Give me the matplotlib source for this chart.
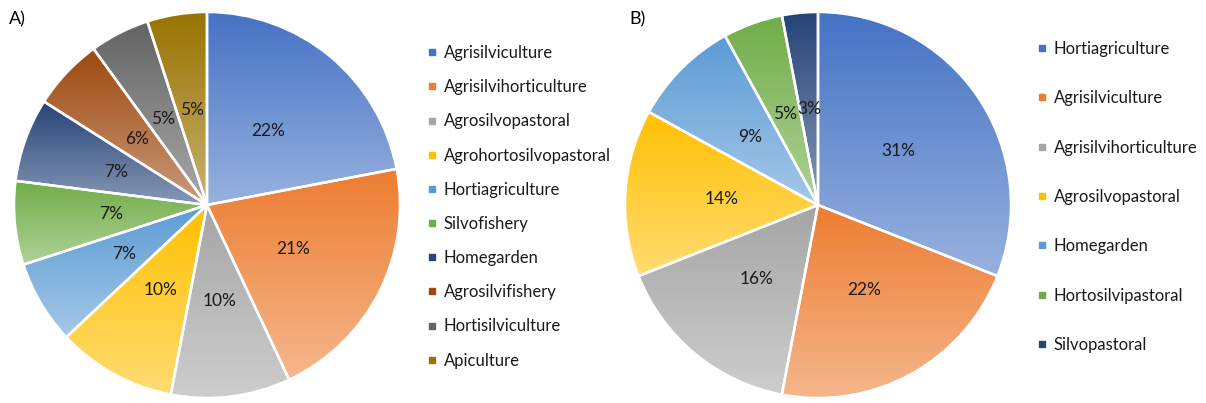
import numpy as np
import matplotlib
matplotlib.use("Agg")
import matplotlib.pyplot as plt
from matplotlib.colors import to_rgb
from matplotlib.lines import Line2D

plt.rcParams['font.family'] = ['Lato', 'DejaVu Sans']

# data
labels_a = ['Agrisilviculture', 'Agrisilvihorticulture', 'Agrosilvopastoral',
            'Agrohortosilvopastoral', 'Hortiagriculture', 'Silvofishery',
            'Homegarden', 'Agrosilvifishery', 'Hortisilviculture', 'Apiculture']
values_a = [22, 21, 10, 10, 7, 7, 7, 6, 5, 5]

labels_b = ['Hortiagriculture', 'Agrisilviculture', 'Agrisilvihorticulture',
            'Agrosilvopastoral', 'Homegarden', 'Hortosilvipastoral', 'Silvopastoral']
values_b = [31, 22, 16, 14, 9, 5, 3]

office = ['#4472C4', '#ED7D31', '#A5A5A5', '#FFC000', '#5B9BD5',
          '#70AD47', '#264478', '#9E480E', '#636363', '#997300']

W, H = 1206, 403


def gradient_fill(ax, wedge, color, zorder):
    """Fill a wedge with a vertical gradient: base colour on top, lighter at bottom"""
    verts = wedge.get_path().vertices
    x0, y0 = verts.min(axis=0)
    x1, y1 = verts.max(axis=0)
    top = np.array(to_rgb(color))
    bottom = top + (1 - top) * 0.45
    t = np.linspace(0, 1, 256)[:, None]
    grad = top * (1 - t) + bottom * t
    img = ax.imshow(grad[:, None, :], extent=[x0, x1, y0, y1], origin='upper',
                    aspect='auto', interpolation='bilinear', zorder=zorder)
    img.set_clip_path(wedge)


def draw_pie(cx, cy, r, values, colors):
    pad = 1.02
    side = 2 * r * pad
    ax = plt.gcf().add_axes([(cx - side / 2) / W, (H - cy - side / 2) / H, side / W, side / H])
    wedges, texts, autotexts = ax.pie(
        values, colors=colors, startangle=90, counterclock=False,
        autopct='%1.0f%%', pctdistance=0.5,
        wedgeprops=dict(edgecolor='white', linewidth=1.8),
        textprops=dict(fontsize=12.5, color='#1a1a1a'))
    for w, c in zip(wedges, colors):
        w.set_facecolor('none')
        w.set_zorder(2)
        gradient_fill(ax, w, c, 1)
    for t in autotexts:
        t.set_zorder(3)
    ax.set_xlim(-pad, pad)
    ax.set_ylim(-pad, pad)
    ax.set_aspect('equal')
    ax.axis('off')
    return ax


def add_legend(labels, colors, x, y, spacing):
    handles = [Line2D([], [], marker='s', linestyle='none', markersize=5,
                      markerfacecolor=c, markeredgecolor=c) for c in colors]
    fig.legend(handles, labels, loc='upper left', bbox_to_anchor=(x / W, 1 - y / H),
               frameon=False, fontsize=12, handlelength=0.5, handletextpad=0.45,
               labelspacing=spacing, borderpad=0, borderaxespad=0,
               labelcolor='#1a1a1a')


fig = plt.figure(figsize=(W / 100, H / 100), dpi=100)

draw_pie(207, 205, 193, values_a, office[:len(values_a)])
draw_pie(818, 205, 193, values_b, office[:len(values_b)])

add_legend(labels_a, office[:len(labels_a)], 428, 45, 1.09)
add_legend(labels_b, office[:len(labels_b)], 1038, 41, 2.0)

fig.text(9 / W, 1 - 19 / H, 'A)', fontsize=13, va='center', ha='left')
fig.text(629 / W, 1 - 19 / H, 'B)', fontsize=13, va='center', ha='left')

fig.savefig('out.png', dpi=100)
